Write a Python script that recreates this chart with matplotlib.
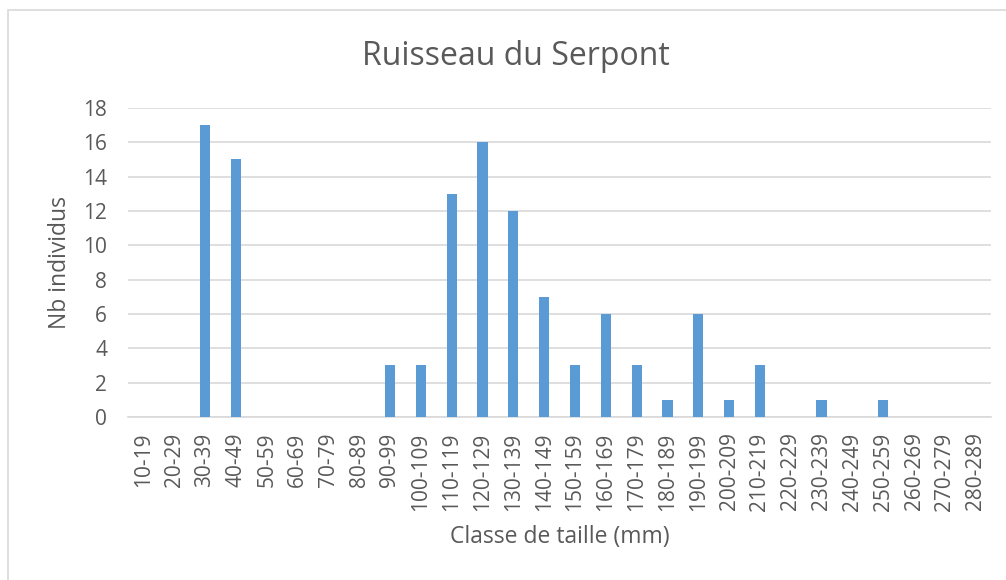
import matplotlib.pyplot as plt
from matplotlib.patches import Rectangle

# Données : classes de taille et effectifs
classes = ["10-19", "20-29", "30-39", "40-49", "50-59", "60-69", "70-79",
           "80-89", "90-99", "100-109", "110-119", "120-129", "130-139",
           "140-149", "150-159", "160-169", "170-179", "180-189", "190-199",
           "200-209", "210-219", "220-229", "230-239", "240-249", "250-259",
           "260-269", "270-279", "280-289"]
effectifs = [0, 0, 17, 15, 0, 0, 0, 0, 3, 3, 13, 16, 12, 7, 3, 6, 3, 1, 6,
             1, 3, 0, 1, 0, 1, 0, 0, 0]
y_ticks = [0, 2, 4, 6, 8, 10, 12, 14, 16, 18]

gris = "#595959"
plt.rcParams['font.family'] = ['Open Sans', 'DejaVu Sans']

fig = plt.figure(figsize=(10.06, 5.8), dpi=100)
ax = fig.add_axes([0.1272, 0.281, 0.858, 0.533])

# cadre du graphique (style Excel)
fig.patches.append(Rectangle((8 / 1006, -0.05), 1.2, 1 - 10 / 580 + 0.05,
                             transform=fig.transFigure, fill=False,
                             edgecolor="#d9d9d9", linewidth=1.2))

x = range(len(classes))
ax.bar(x, effectifs, width=0.33, color="#5B9BD5", zorder=3)

ax.set_xlim(-0.5, len(classes) - 0.5)
ax.set_ylim(0, 18)
ax.set_yticks(y_ticks)
ax.set_xticks(list(x))
ax.set_xticklabels(classes, rotation=90)
ax.tick_params(axis="both", length=0, labelsize=15, colors=gris)
ax.tick_params(axis="x", pad=11)
ax.tick_params(axis="y", pad=15)

ax.grid(axis="y", color="#d9d9d9", linewidth=1.2, zorder=0)
for s in ["top", "right", "left"]:
    ax.spines[s].set_visible(False)
ax.spines["bottom"].set_color("#d9d9d9")
ax.spines["bottom"].set_linewidth(1.2)

ax.set_ylabel("Nb individus", fontsize=16.5, color=gris, labelpad=8)
ax.set_xlabel("Classe de taille (mm)", fontsize=16.5, color=gris, labelpad=10)
fig.text(0.513, 0.903, "Ruisseau du Serpont", ha="center", va="center",
         fontsize=23, color=gris)

fig.savefig("out.png", dpi=100)
